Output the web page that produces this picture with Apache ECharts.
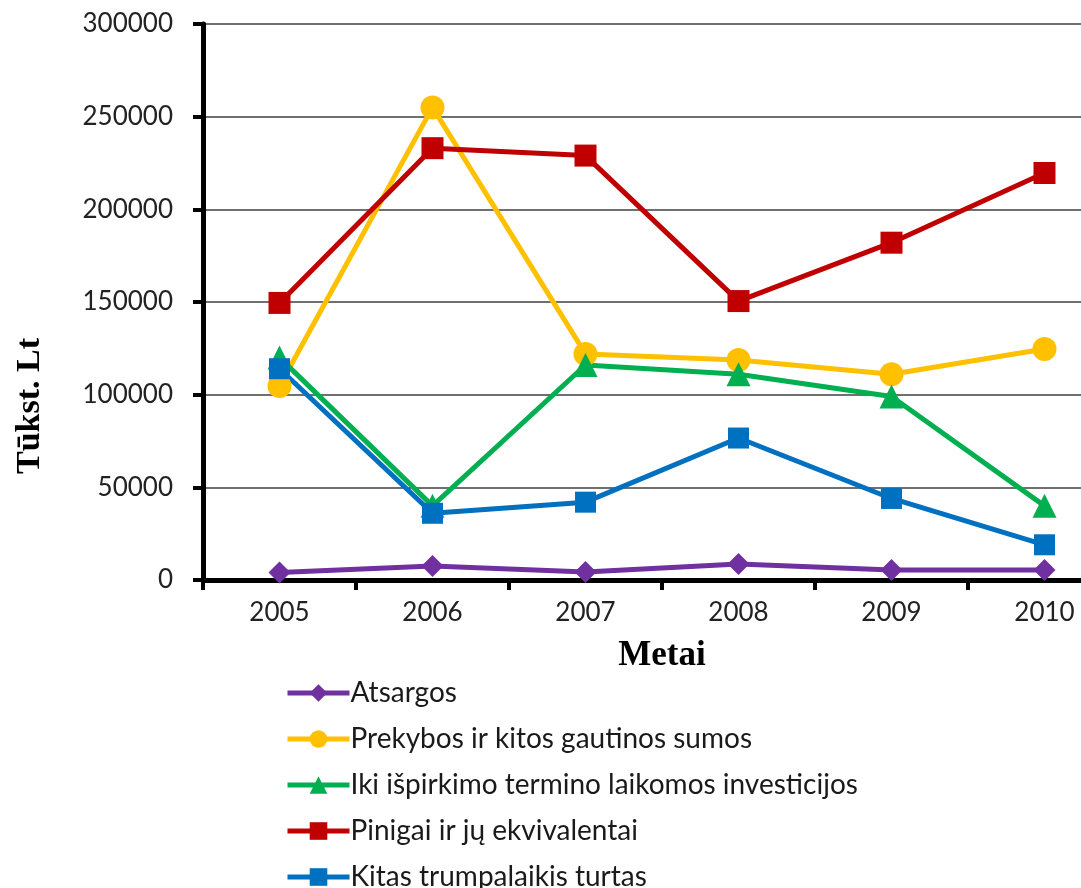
<!DOCTYPE html>
<html>
<head>
<meta charset="utf-8">
<script src="https://cdn.jsdelivr.net/npm/echarts@6/dist/echarts.min.js"></script>
<style>
  html, body { margin: 0; padding: 0; background: #fff; }
  #chart_container { width: 1081px; height: 888px; }
</style>
</head>
<body>
<div id="chart_container"></div>
<script>
// data (tūkst. Lt)
const years = ['2005', '2006', '2007', '2008', '2009', '2010'];
const atsargos = [4000, 7500, 4300, 8600, 5400, 5400];
const prekybos = [104700, 255000, 122000, 118700, 111000, 124600];
const iki = [120000, 40000, 116000, 111000, 99000, 40000];
const pinigai = [149500, 233000, 229000, 150500, 182000, 219600];
const kitas = [114000, 36000, 42000, 76600, 44000, 19000];

const names = [
    'Atsargos',
    'Prekybos ir kitos gautinos sumos',
    'Iki išpirkimo termino laikomos investicijos',
    'Pinigai ir jų ekvivalentai',
    'Kitas trumpalaikis turtas'
];

function make_series(name, data, color, symbol, size) {
    return {
        name: name,
        type: 'line',
        data: data,
        symbol: symbol,
        symbolSize: size,
        showAllSymbol: true,
        lineStyle: { color: color, width: 5 },
        itemStyle: { color: color },
        emphasis: { disabled: true },
        animation: false
    };
}

// one legend block per row, so the last row can hang off the bottom edge
function make_legends() {
    let ls = [];
    names.forEach((n, i) => {
        ls.push({
            orient: 'vertical',
            left: 280,
            top: 674 + i * 46,
            itemWidth: 62,
            itemHeight: 22,
            data: [n],
            lineStyle: { width: 5 },
            selectedMode: false,
            textStyle: { fontSize: 28, color: '#1a1a1a', fontFamily: 'Lato', padding: [0, 0, 0, -4] }
        });
    });
    return ls;
}

document.addEventListener('DOMContentLoaded', function () {
    let chart = echarts.init(document.getElementById('chart_container'));

    let option = {
        backgroundColor: '#ffffff',
        animation: false,
        textStyle: { fontFamily: 'Lato' },
        // plot runs past the right edge of the picture, like the original crop
        grid: { left: 203, top: 24, width: 918, height: 556, outerBoundsMode: 'none', containLabel: false },
        legend: make_legends(),
        xAxis: {
            type: 'category',
            data: years,
            boundaryGap: true,
            name: 'Metai',
            nameLocation: 'middle',
            nameGap: 58,
            nameTextStyle: { fontFamily: 'Liberation Serif', fontWeight: 'bold', fontSize: 35, color: '#000' },
            axisLine: { lineStyle: { color: '#000', width: 5 } },
            axisTick: { show: true, length: 10, lineStyle: { color: '#000', width: 4 } },
            axisLabel: { fontSize: 26, color: '#222', margin: 20 }
        },
        yAxis: {
            type: 'value',
            min: 0,
            max: 300000,
            interval: 50000,
            axisLine: { show: true, lineStyle: { color: '#000', width: 5 } },
            axisTick: { show: true, length: 10, lineStyle: { color: '#000', width: 4 } },
            axisLabel: { fontSize: 26, color: '#222', margin: 30, formatter: function (v) { return String(v); } },
            splitLine: { lineStyle: { color: '#404040', width: 1.5 } }
        },
        graphic: [{
            type: 'text',
            x: 30,
            y: 406,
            rotation: Math.PI / 2,
            style: {
                text: 'Tūkst. Lt',
                font: 'bold 34px "Liberation Serif"',
                fill: '#000',
                textAlign: 'center',
                textVerticalAlign: 'middle'
            }
        }],
        series: [
            make_series(names[0], atsargos, '#7030A0', 'diamond', 22),
            make_series(names[1], prekybos, '#FFC000', 'circle', 24),
            make_series(names[2], iki, '#00B050', 'triangle', 24),
            make_series(names[3], pinigai, '#C00000', 'rect', 22),
            make_series(names[4], kitas, '#0070C0', 'rect', 21)
        ]
    };

    chart.setOption(option);
});
</script>
</body>
</html>
